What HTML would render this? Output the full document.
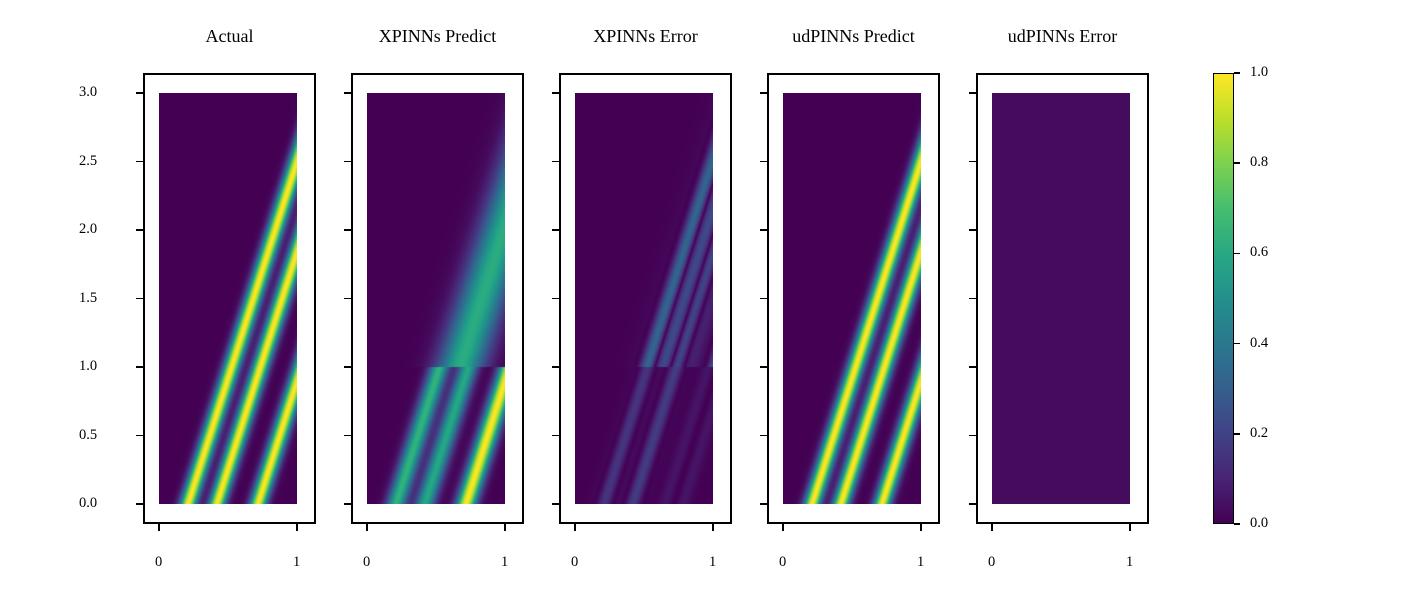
<!DOCTYPE html>
<html><head><meta charset="utf-8">
<style>
body{margin:0;background:#fff;width:1416px;height:600px;overflow:hidden;position:relative;font-family:"Liberation Serif",serif;}
.t{position:absolute;font-size:14.5px;color:#000;white-space:nowrap;}
.title{position:absolute;font-size:18px;white-space:nowrap;transform:translateX(-50%);}
.frame{position:absolute;border:2px solid #000;box-sizing:border-box;}
.tk{position:absolute;background:#000;}
canvas{position:absolute;}
</style></head><body>
<div id="root"></div>
<script>
const titles=["Actual","XPINNs Predict","XPINNs Error","udPINNs Predict","udPINNs Error"];
const stripeStarts=[0.21,0.42,0.72];
const stripeSpeed=[0.317];
const yTicks=[0.0,0.5,1.0,1.5,2.0,2.5,3.0];
const xTicks=[0,1];
const cbTicks=[0.0,0.2,0.4,0.6,0.8,1.0];
const panelLefts=[143,351,559,767,976];
const root=document.getElementById('root');
const W=173,TOP=73,H=451,D0=16,DW=138,DY0=93,DH=411;
function viridis(t){t=Math.max(0,Math.min(1,t));
 const s=[[68,1,84],[72,40,120],[62,74,137],[49,104,142],[38,130,142],[31,158,137],[53,183,121],[110,206,88],[181,222,43],[253,231,37]];
 const f=t*9,i=Math.min(8,Math.floor(f)),r=f-i;return s[i].map((v,k)=>v+(s[i+1][k]-v)*r);}
function actual(x,y){let u=0;for(const c of stripeStarts){const d=x-stripeSpeed[0]*y-c;u+=Math.exp(-d*d/(2*0.042*0.042));}return Math.min(1,u);}
function xpred(x,y){
 if(y<1){let u=0;const a=[0.65,0.6,1];stripeStarts.forEach((c,i)=>{const d=x-stripeSpeed[0]*y-c;u+=a[i]*Math.exp(-d*d/(2*0.05*0.05));});return Math.min(1,u);}
 const d=x-stripeSpeed[0]*y-0.36;return 0.62*Math.exp(-d*d/(2*0.12*0.12));}
function udpred(x,y){return actual(x,y);}
const fields=[actual,xpred,(x,y)=>Math.abs(actual(x,y)-xpred(x,y))*0.45,udpred,(x,y)=>0.03];
function mk(tag,cls,name,st){const e=document.createElement(tag);if(cls)e.className=cls;
 
 
 Object.assign(e.style,st);root.appendChild(e);return e;}
panelLefts.forEach((L,p)=>{
 const tt=mk('div','title','panel-title',{left:(L+W/2)+'px',top:'26px'});tt.textContent=titles[p];
 mk('div','frame','panel-frame',{left:L+'px',top:TOP+'px',width:W+'px',height:H+'px'});
 const cv=mk('canvas','','heatmap',{left:(L+D0)+'px',top:DY0+'px'});cv.width=DW;cv.height=DH;
 const ctx=cv.getContext('2d'),img=ctx.createImageData(DW,DH);
 for(let j=0;j<DH;j++)for(let i=0;i<DW;i++){const x=i/(DW-1),y=3*(DH-1-j)/(DH-1);const c=viridis(fields[p](x,y));const k=(j*DW+i)*4;img.data[k]=c[0];img.data[k+1]=c[1];img.data[k+2]=c[2];img.data[k+3]=255;}
 ctx.putImageData(img,0,0);
 yTicks.forEach(v=>{const y=504-v/3*411;
  mk('div','tk','y-tick',{left:(L-7)+'px',top:(y-0.75)+'px',width:'7px',height:'1.5px'});
  if(p==0){const l=mk('div','t','y-tick-label',{left:'79px',top:(y-9)+'px'});l.textContent=v.toFixed(1);}});
 xTicks.forEach(v=>{const x=L+D0+v*DW;
  mk('div','tk','x-tick',{left:(x-0.75)+'px',top:(TOP+H)+'px',width:'1.5px',height:'7px'});
  const l=mk('div','t','x-tick-label',{left:(x-4)+'px',top:'554px'});l.textContent=v;});
});
const cb=mk('div','','colorbar',{position:'absolute',left:'1213px',top:'73px',width:'21px',height:'451px',boxSizing:'border-box',border:'1.5px solid #000',
 background:'linear-gradient(to top,'+Array.from({length:11},(_,i)=>'rgb('+viridis(i/10).map(Math.round).join(',')+')').join(',')+')'});
cbTicks.forEach(v=>{const y=524-v*451;
 mk('div','tk','colorbar-tick',{left:'1234px',top:(y-0.75)+'px',width:'6px',height:'1.5px'});
 const l=mk('div','t','colorbar-tick-label',{left:'1250px',top:(y-9)+'px'});l.textContent=v.toFixed(1);});
</script>
</body></html>
